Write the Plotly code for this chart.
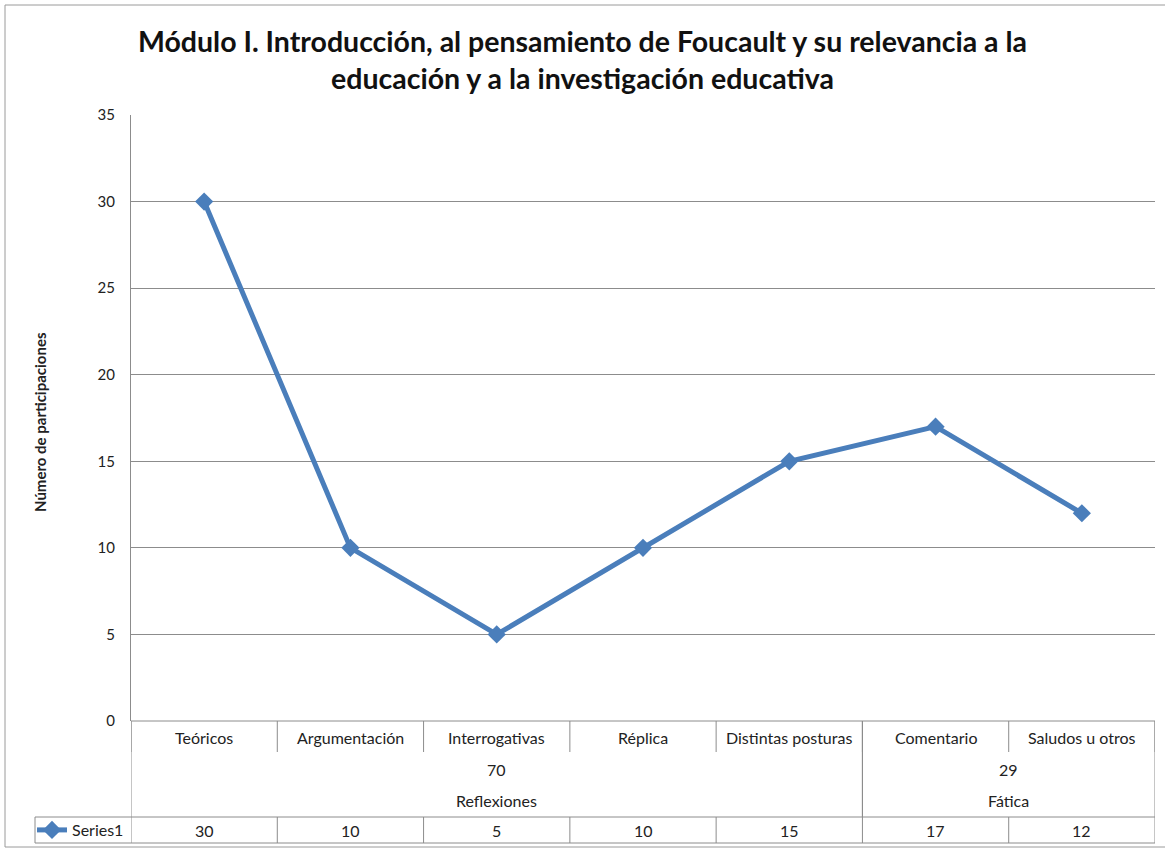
import plotly.graph_objects as go

# data
categories = ["Teóricos", "Argumentación", "Interrogativas", "Réplica",
              "Distintas posturas", "Comentario", "Saludos u otros"]
values = [30, 10, 5, 10, 15, 17, 12]
group_names = ["Reflexiones", "Fática"]
group_sizes = [5, 2]
group_totals = [70, 29]
y_ticks = [0, 5, 10, 15, 20, 25, 30, 35]

title_text = ("Módulo I. Introducción, al pensamiento de Foucault y su relevancia a la"
              "<br>educación y a la investigación educativa")
y_title = "Número de participaciones"

W, H = 1165, 849
ML, MR, MT, MB = 131, 10, 115, 128
PH = H - MT - MB
PW = W - ML - MR
FONT = "Lato"
GRID = "#8c8c8c"
BLUE = "#4A7EBB"
TXT = "#222"
FS = 16


def py(pix):
    # pixel row in the page -> paper y
    return (H - MB - pix) / PH


def px(pix):
    return (pix - ML) / PW


def label(x, y, text, xref="x", size=FS, **kw):
    return dict(x=x, xref=xref, y=y, yref="paper", text=text, showarrow=False,
                xanchor="center", yanchor="middle",
                font=dict(size=size, color=TXT, family=FONT), **kw)


fig = go.Figure()
fig.add_trace(go.Scatter(
    x=list(range(len(categories))), y=values, name="Series1",
    mode="lines+markers",
    line=dict(color=BLUE, width=5),
    marker=dict(symbol="diamond", size=14, color=BLUE),
))

shapes = []
annotations = []
n = len(categories)
line = dict(color=GRID, width=1)

# category labels, data values and separators
for i, c in enumerate(categories):
    annotations.append(label(i, py(737), c))
    annotations.append(label(i, py(830), str(values[i])))
for b in range(n + 1):
    shapes.append(dict(type="line", xref="x", yref="paper", x0=b - 0.5, x1=b - 0.5,
                       y0=py(721), y1=py(752), line=line))
    shapes.append(dict(type="line", xref="x", yref="paper", x0=b - 0.5, x1=b - 0.5,
                       y0=py(817), y1=py(843), line=line))

# group rows
start = 0
for name, size, tot in zip(group_names, group_sizes, group_totals):
    mid = start + (size - 1) / 2
    annotations.append(label(mid, py(769), str(tot)))
    annotations.append(label(mid, py(800), name))
    for b in (start - 0.5, start + size - 0.5):
        shapes.append(dict(type="line", xref="x", yref="paper", x0=b, x1=b,
                           y0=py(721), y1=py(817), line=line))
    start += size

# table horizontal lines and legend cell
shapes.append(dict(type="line", xref="x", yref="paper", x0=-0.5, x1=n - 0.5,
                   y0=py(721), y1=py(721), line=line))
for yy in (817, 843):
    shapes.append(dict(type="line", xref="paper", yref="paper", x0=px(35), x1=1,
                       y0=py(yy), y1=py(yy), line=line))
shapes.append(dict(type="line", xref="paper", yref="paper", x0=px(35), x1=px(35),
                   y0=py(817), y1=py(843), line=line))
# outer chart frame
shapes.append(dict(type="rect", xref="paper", yref="paper", x0=px(5), x1=px(1170),
                   y0=py(5), y1=py(847), line=dict(color="#9a9a9a", width=1)))

annotations.append(label(px(40), py(422), "<b>" + y_title + "</b>", xref="paper",
                         size=15, textangle=-90))

fig.update_layout(
    width=W, height=H,
    margin=dict(l=ML, r=MR, t=MT, b=MB, autoexpand=False),
    paper_bgcolor="white", plot_bgcolor="white",
    font=dict(family=FONT, color=TXT),
    title=dict(text="<b>" + title_text + "</b>", x=0.5, xref="container",
               xanchor="center", y=1 - 52 / H, yref="container", yanchor="middle",
               font=dict(size=28.5, color="#111", family=FONT)),
    xaxis=dict(range=[-0.5, n - 0.5], showticklabels=False, showgrid=False,
               zeroline=False, ticks=""),
    yaxis=dict(range=[0, 35], tickvals=y_ticks, showgrid=True, gridcolor=GRID,
               gridwidth=1, zeroline=False, showline=True, linecolor=GRID,
               ticks="outside", ticklen=12, tickcolor="white",
               tickfont=dict(size=15, color=TXT)),
    showlegend=True,
    legend=dict(x=px(32), y=py(830), xanchor="left", yanchor="middle",
                bgcolor="rgba(0,0,0,0)", font=dict(size=FS, color=TXT),
                itemwidth=30),
    shapes=shapes, annotations=annotations,
)

fig.write_html("out.html", config={"displayModeBar": False},
               post_script="document.body.style.margin='0';"
                           "document.body.style.overflow='hidden';")
